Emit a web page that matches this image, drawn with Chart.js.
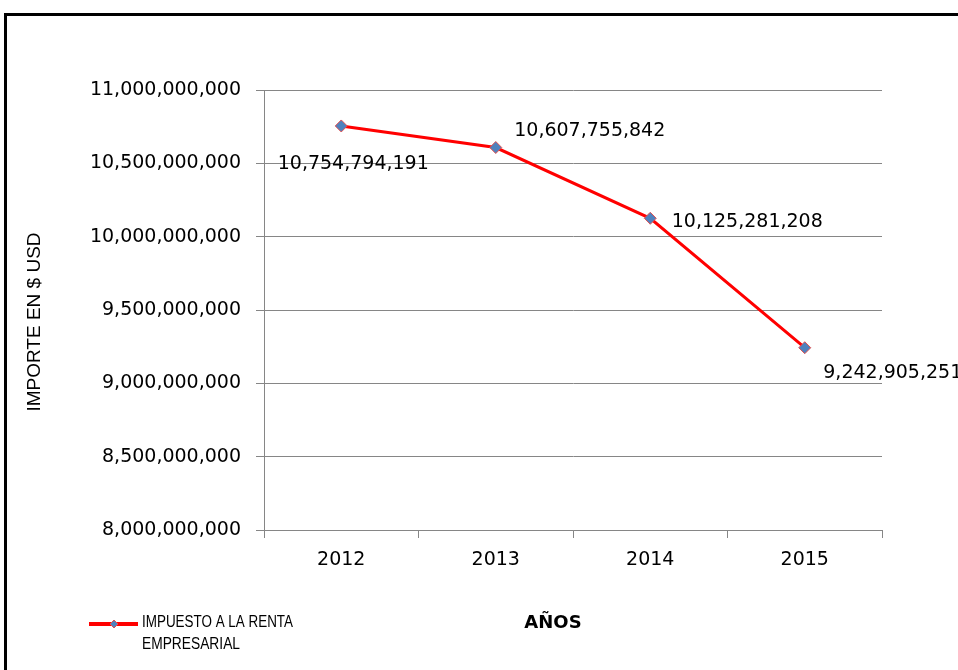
<!DOCTYPE html>
<html>
<head>
<meta charset="utf-8">
<script src="https://cdn.jsdelivr.net/npm/chart.js@4/dist/chart.umd.min.js"></script>
<style>
  html, body { margin: 0; padding: 0; background: #fff; overflow: hidden; }
  #wrap { position: relative; width: 958px; height: 670px; }
  #frame { position: absolute; left: 4px; top: 13px; width: 980px; height: 700px; border: 3px solid #000; box-sizing: border-box; pointer-events: none; }
  canvas { position: absolute; left: 0; top: 0; }
</style>
</head>
<body>
<div id="wrap">
  <canvas id="c" width="958" height="670"></canvas>
  <div id="frame"></div>
</div>
<script>
const years = ['2012', '2013', '2014', '2015'];
const impuestoRenta = [10754794191, 10607755842, 10125281208, 9242905251];
const yMin = 8000000000;
const yMax = 11000000000;
const yStep = 500000000;
const seriesName = ['IMPUESTO A LA RENTA', 'EMPRESARIAL'];
const yTitle = 'IMPORTE EN $ USD';
const xTitle = 'AÑOS';

const fmt = v => Math.round(v).toLocaleString('en-US');
const FONT = '"DejaVu Sans", sans-serif';
const SANS = '"Liberation Sans", Arial, sans-serif';

// label placement styles (offset from each point, in px)
const labelOffsets = [[12, 38], [94, -16], [97, 4], [88, 25]];

const overlay = {
  id: 'overlay',
  afterDatasetsDraw(chart) {
    const ctx = chart.ctx;
    const meta = chart.getDatasetMeta(0);
    ctx.save();
    ctx.fillStyle = '#000';
    ctx.font = '19px ' + FONT;
    ctx.textAlign = 'center';
    ctx.textBaseline = 'middle';
    meta.data.forEach((pt, i) => {
      const o = labelOffsets[i];
      ctx.fillText(fmt(impuestoRenta[i]), pt.x + o[0], pt.y + o[1]);
    });
    // y title
    ctx.save();
    ctx.translate(35, 322);
    ctx.rotate(-Math.PI / 2);
    ctx.font = '19px ' + SANS;
    ctx.fillText(yTitle, 0, 0, 204);
    ctx.restore();
    // x title
    ctx.font = 'bold 18px ' + FONT;
    ctx.fillText(xTitle, 553, 623);
    // legend
    ctx.strokeStyle = '#ff0000';
    ctx.lineWidth = 4;
    ctx.beginPath();
    ctx.moveTo(89, 624);
    ctx.lineTo(138, 624);
    ctx.stroke();
    ctx.fillStyle = '#4f81bd';
    ctx.strokeStyle = '#e05050';
    ctx.lineWidth = 1;
    ctx.beginPath();
    ctx.moveTo(114, 620); ctx.lineTo(118, 624); ctx.lineTo(114, 628); ctx.lineTo(110, 624); ctx.closePath();
    ctx.fill(); ctx.stroke();
    ctx.fillStyle = '#000';
    ctx.textAlign = 'left';
    ctx.font = '16px ' + SANS;
    ctx.fillText(seriesName[0], 142, 623, 151);
    ctx.fillText(seriesName[1], 142, 645, 98);
    ctx.restore();
  }
};

new Chart(document.getElementById('c'), {
  type: 'line',
  data: {
    labels: years,
    datasets: [{
      label: seriesName.join(' '),
      data: impuestoRenta,
      borderColor: '#ff0000',
      borderWidth: 3,
      pointStyle: 'rectRot',
      pointRadius: 6,
      pointBackgroundColor: '#4f81bd',
      pointBorderColor: '#e05050',
      pointBorderWidth: 1,
      tension: 0,
      fill: false
    }]
  },
  options: {
    responsive: false,
    animation: false,
    devicePixelRatio: 1,
    layout: { padding: { left: 0, top: 90, right: 76, bottom: 0 } },
    plugins: { legend: { display: false }, tooltip: { enabled: false } },
    scales: {
      x: {
        offset: true,
        grid: { display: true, drawOnChartArea: false, offset: true, color: '#868686', tickLength: 8 },
        border: { color: '#868686', width: 1 },
        ticks: { color: '#000', font: { family: FONT, size: 19 }, padding: 11, maxRotation: 0 },
        afterFit(scale) { scale.height = 140; }
      },
      y: {
        min: yMin,
        max: yMax,
        grid: { color: '#868686', tickLength: 8 },
        border: { color: '#868686', width: 1 },
        ticks: {
          stepSize: yStep,
          color: '#000',
          font: { family: FONT, size: 19 },
          padding: 15,
          callback: v => fmt(v)
        },
        afterFit(scale) { scale.width = 264; }
      }
    }
  },
  plugins: [overlay]
});
</script>
</body>
</html>
